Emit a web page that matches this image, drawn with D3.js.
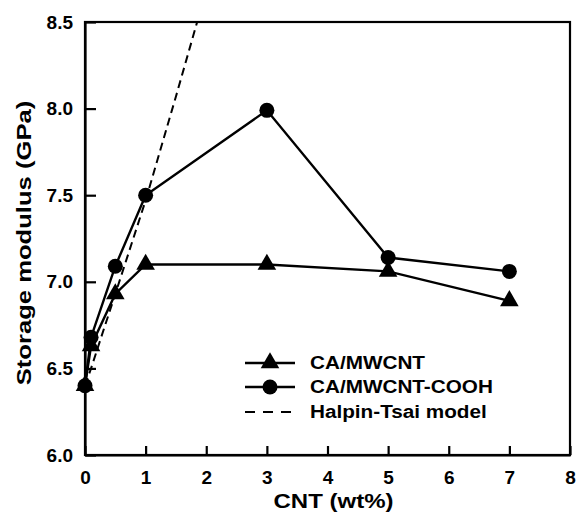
<!DOCTYPE html>
<html><head><meta charset="utf-8">
<script src="https://cdn.jsdelivr.net/npm/d3@7"></script>
<style>body{margin:0;background:#fff}svg{display:block}text{font-family:"Liberation Sans",Arial,sans-serif;font-weight:bold;fill:#000}</style>
</head><body><svg id="c" width="580" height="515"></svg>
<script>
const cntMW = [0, 0.1, 0.5, 1, 3, 5, 7];
const modMW = [6.40, 6.63, 6.93, 7.10, 7.10, 7.06, 6.89];
const cntCOOH = [0, 0.1, 0.5, 1, 3, 5, 7];
const modCOOH = [6.40, 6.68, 7.09, 7.50, 7.99, 7.14, 7.06];
const cntHT = [0, 0.1, 0.5, 1, 1.5, 1.85];
const modHT = [6.40, 6.50, 6.93, 7.47, 8.07, 8.50];
const xTicks = [0,1,2,3,4,5,6,7,8];
const yTicks = [6.0,6.5,7.0,7.5,8.0,8.5];
const legendLabels = ["CA/MWCNT","CA/MWCNT-COOH","Halpin-Tsai model"];

const svg = d3.select("#c");
const L=85,R=570,T=22,B=455;
const x = d3.scaleLinear().domain([0,8]).range([L,R]);
const y = d3.scaleLinear().domain([6,8.5]).range([B,T]);

svg.append("clipPath").attr("id","clip").append("rect").attr("x",L).attr("y",T).attr("width",R-L).attr("height",B-T);

svg.append("rect").attr("x",L).attr("y",T).attr("width",R-L).attr("height",B-T).attr("fill","none").attr("stroke","#000").attr("stroke-width",2.2);

const xa = svg.append("g").attr("transform",`translate(0,${B})`)
  .call(d3.axisBottom(x).tickValues(xTicks).tickFormat(d3.format("d")).tickSizeInner(-9).tickSizeOuter(0).tickPadding(16));
const ya = svg.append("g").attr("transform",`translate(${L},0)`)
  .call(d3.axisLeft(y).tickValues(yTicks).tickFormat(d3.format(".1f")).tickSizeInner(-11).tickSizeOuter(0).tickPadding(12));
[xa,ya].forEach(a=>{a.select(".domain").attr("stroke-width",2.2);a.selectAll(".tick line").attr("stroke-width",2.2);a.selectAll("text").attr("font-size",19).attr("font-family","Liberation Sans, Arial, sans-serif").attr("font-weight","bold");});

const line = d3.line().x(d=>x(d[0])).y(d=>y(d[1]));
const g = svg.append("g").attr("clip-path","url(#clip)");
const mw = cntMW.map((c,i)=>[c,modMW[i]]);
const co = cntCOOH.map((c,i)=>[c,modCOOH[i]]);
const ht = cntHT.map((c,i)=>[c,modHT[i]]);
g.append("path").datum(ht).attr("d",line).attr("fill","none").attr("stroke","#000").attr("stroke-width",2).attr("stroke-dasharray","8,5");
g.append("path").datum(mw).attr("d",line).attr("fill","none").attr("stroke","#000").attr("stroke-width",2.4);
g.append("path").datum(co).attr("d",line).attr("fill","none").attr("stroke","#000").attr("stroke-width",2.4);
const tri = d3.symbol().type(d3.symbolTriangle).size(150);
svg.append("g").selectAll("path").data(mw).join("path").attr("d",tri).attr("transform",d=>`translate(${x(d[0])},${y(d[1])})`).attr("fill","#000");
svg.append("g").selectAll("circle").data(co).join("circle").attr("cx",d=>x(d[0])).attr("cy",d=>y(d[1])).attr("r",7.5).attr("fill","#000");

// legend
const lg = svg.append("g");
const ly = [363,387,412];
lg.append("line").attr("x1",245).attr("x2",295).attr("y1",ly[0]).attr("y2",ly[0]).attr("stroke","#000").attr("stroke-width",2.4);
lg.append("path").attr("d",tri).attr("transform",`translate(270,${ly[0]})`);
lg.append("line").attr("x1",245).attr("x2",295).attr("y1",ly[1]).attr("y2",ly[1]).attr("stroke","#000").attr("stroke-width",2.4);
lg.append("circle").attr("cx",270).attr("cy",ly[1]).attr("r",7.5);
lg.append("line").attr("x1",245).attr("x2",292).attr("y1",ly[2]).attr("y2",ly[2]).attr("stroke","#000").attr("stroke-width",2.2).attr("stroke-dasharray","10,8");
legendLabels.forEach((t,i)=>lg.append("text").attr("transform",`translate(310,${ly[i]+6}) scale(1.12,1)`).attr("font-size",18.5).text(t));

svg.append("text").attr("transform",`translate(${(L+R)/2+6},508) scale(1.2,1)`).attr("text-anchor","middle").attr("font-size",20).text("CNT (wt%)");
svg.append("text").attr("transform",`translate(31,243) rotate(-90) scale(1.28,1)`).attr("text-anchor","middle").attr("font-size",20).text("Storage modulus (GPa)");
</script></body></html>
